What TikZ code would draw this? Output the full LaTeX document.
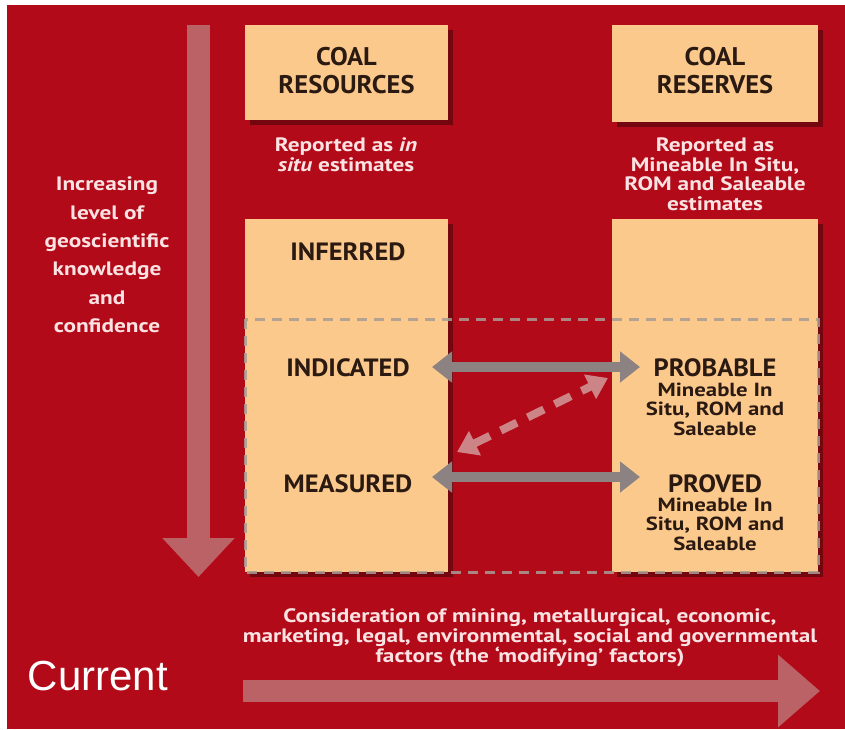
\documentclass[tikz,border=0pt]{standalone}
\usepackage{fontspec}
\setmainfont{PT Sans}
\newfontfamily\tfont[FakeStretch=1.04]{PT Sans}
\newfontfamily\cfont[FakeStretch=1.06]{PT Sans}
\newfontfamily\wfont[FakeStretch=1.2]{PT Sans}
\newfontfamily\curfont{Liberation Sans}
\usetikzlibrary{arrows.meta,shadows}
\definecolor{bgred}{HTML}{B30A19}
\definecolor{peach}{HTML}{FCC98D}
\definecolor{ink}{HTML}{2B1A12}
\definecolor{pale}{HTML}{FBE3E3}
\definecolor{arrowgray}{HTML}{8C8282}
\definecolor{ghost}{HTML}{BA6266}
\definecolor{diag}{HTML}{CC8486}
\definecolor{dashc}{HTML}{A89C94}
\tikzset{
  box/.style={rectangle, fill=peach, draw=none, inner sep=0pt,
    drop shadow={shadow xshift=5pt, shadow yshift=-5pt, opacity=0.35, fill=black}},
  titletext/.style={font=\tfont\bfseries\fontsize{25.5}{28}\selectfont, text=ink, align=center},
  classtext/.style={font=\cfont\bfseries\fontsize{25}{26}\selectfont, text=ink, align=center},
  subtext/.style={font=\wfont\bfseries\fontsize{19}{19.5}\selectfont, text=ink, align=center},
  whitetext/.style={font=\wfont\bfseries\fontsize{19.4}{19.5}\selectfont, text=pale, align=center},
  grayarrow/.style={draw=arrowgray, line width=10pt,
    {Triangle[length=20pt,width=30pt]}-{Triangle[length=20pt,width=30pt]}},
  diagarrow/.style={draw=diag, line width=8pt, dash pattern=on 18pt off 12pt,
    {Triangle[length=20pt,width=26pt]}-{Triangle[length=20pt,width=26pt]}},
  ghostarrow/.style={draw=ghost, line width=#1},
  dashframe/.style={draw=dashc, draw opacity=0.85, line width=3pt, dash pattern=on 10pt off 7pt}
}
\begin{document}
\begin{tikzpicture}[x=1pt,y=-1pt]
\useasboundingbox (0,0) rectangle (845,729);
\fill[white] (0,0) rectangle (845,729);
\fill[bgred] (7,5) rectangle (845,729);

% ghost arrows
\coordinate (vtop) at (198.5,25);
\coordinate (vbot) at (198.5,577);
\draw[ghostarrow=23pt, -{Triangle[length=39pt,width=70pt]}] (vtop) -- (vbot);
\coordinate (hL) at (243,691);
\coordinate (hR) at (820,691);
\draw[ghostarrow=22pt, -{Triangle[length=42pt,width=70pt]}] (hL) -- (hR);

% boxes
\node[box, minimum width=203pt, minimum height=95pt] (resbox) at (346.5,72.5) {};
\node[box, minimum width=206pt, minimum height=97pt] (resvbox) at (715,73.5) {};
\node[box, minimum width=203pt, minimum height=353pt] (leftbig) at (346.5,395.5) {};
\node[box, minimum width=206pt, minimum height=353pt] (rightbig) at (715,395.5) {};

\node[titletext] (restitle) at (346.5,71) {COAL\\RESOURCES};
\node[titletext] (resvtitle) at (715,71) {COAL\\RESERVES};

\node[whitetext] (resrep) at (346,154.5) {Reported as \textit{in}\\\textit{situ} estimates};
\node[whitetext] (resvrep) at (715,174) {Reported as\\Mineable In Situ,\\ROM and Saleable\\estimates};

\node[whitetext, font=\wfont\bfseries\fontsize{19.4}{28.4}\selectfont] (know) at (107,255)
  {Increasing\\level of\\geoscientific\\knowledge\\and\\confidence};

% dashed frame
\draw[dashframe] (245,319) rectangle (818,572);

\node[classtext] (inf) at (348,252) {INFERRED};
\node[classtext] (ind) at (348,368) {INDICATED};
\node[classtext] (mea) at (348,484) {MEASURED};
\node[classtext] (prob) at (715,368) {PROBABLE};
\node[subtext] (probsub) at (715,409) {Mineable In\\Situ, ROM and\\Saleable};
\node[classtext] (prov) at (715,484) {PROVED};
\node[subtext] (provsub) at (715,524) {Mineable In\\Situ, ROM and\\Saleable};

% arrows between classes
\coordinate (indA) at (432,367);
\coordinate (probA) at (640,367);
\coordinate (meaA) at (432,477);
\coordinate (provA) at (640,477);
\draw[grayarrow] (indA) -- (probA);
\draw[grayarrow] (meaA) -- (provA);
\coordinate (dA) at (457,452);
\coordinate (dB) at (608,378);
\draw[diagarrow] (dA) -- (dB);

\node[whitetext] (factors) at (530,638)
  {Consideration of mining, metallurgical, economic,\\marketing, legal, environmental, social and governmental\\factors (the ‘modifying’ factors)};

\node[font=\curfont\fontsize{42}{46}\selectfont, text=white, inner sep=0pt] (current) at (98,676) {Current};
\end{tikzpicture}
\end{document}
